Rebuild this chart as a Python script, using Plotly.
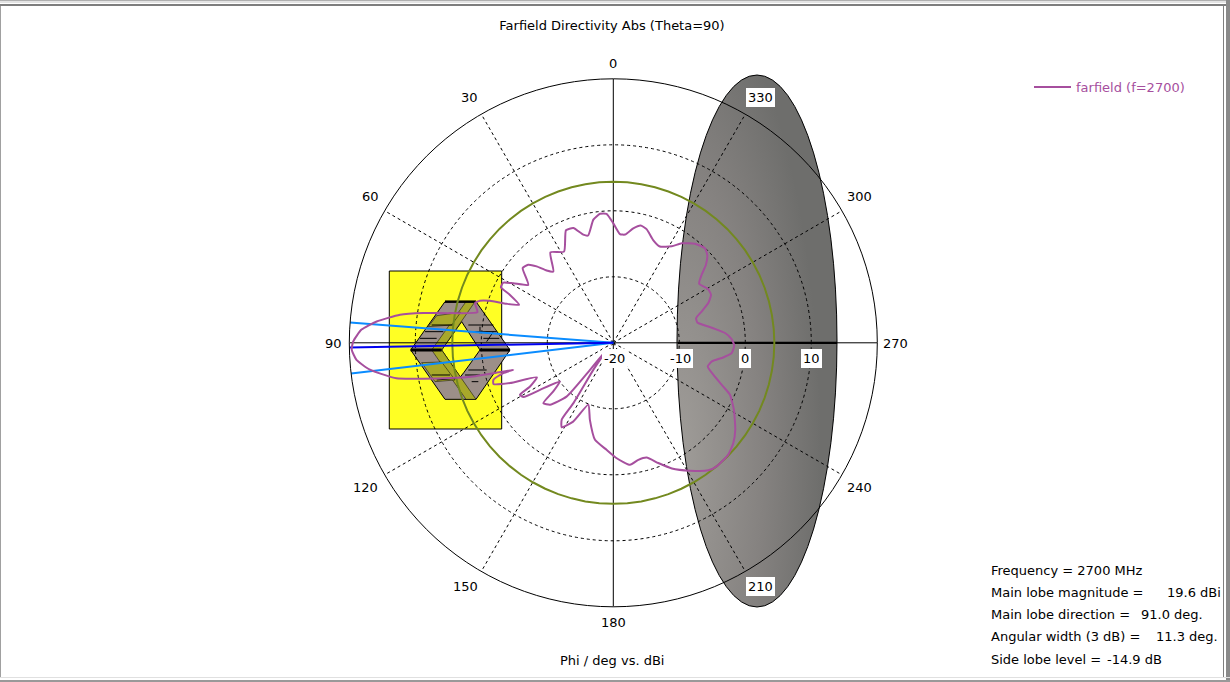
import base64
import plotly.graph_objects as go

# ---- data ----
phi_deg = [0, 3.0, 5.9, 9.2, 13.2, 15.5, 19.2, 22.8, 28.4, 34.8, 40.1, 42.7, 45.1, 47.5, 50.5, 55.7, 59.2, 61.3, 63.7, 65.1,
           68.0, 69.9, 71.2, 72.5, 74.0, 77.3, 79.7, 81.1, 82.5, 84.85, 87.0, 89.7, 91.5, 93.8, 96.3, 99.3, 100.7, 102.2,
           103.5, 104.2, 105.1, 105.4, 107.1, 109.0, 111.3, 114.3, 117.7, 119.1, 121.1, 122.7, 125.9, 129.0, 130.8, 134.4,
           139.0, 139.2, 136.4, 143.5, 146.5, 146.1, 148.6, 153.0, 158.0, 163.1, 169.3, 176.4, 181.7, 187.8, 192.1, 196.2,
           200.5, 205.0, 211.0, 216.7, 219.9, 225.8, 230.1, 234.5, 240.95, 246.0, 248.3, 252.3, 255.9, 259.3, 262.4, 265.0,
           268.7, 271.8, 275.0, 278.3, 283.6, 286.6, 289.5, 292.7, 296.2, 299.5, 304.6, 307.6, 310.1, 313.1, 315.9, 320.5,
           325.5, 328.8, 334.2, 338.8, 343.7, 346.9, 350.1, 353.8, 356.5, 360]
directivity_dbi = [-1.9, -0.43, -0.35, -1.1, -3.3, -3.0, -1.6, -1.5, -4.3, -3.3, -5.9, -5.1, -3.6, -2.5, -2.2, -4.4, -2.4, -1.0, -1.0, -2.7,
                   -4.6, -2.8, -0.25, 1.2, 1.8, 1.1, 5.15, 9.1, 12.6, 16.0, 18.2, 19.4, 19.65, 19.0, 17.1, 13.3, 9.3, 5.3,
                   1.8, -1.25, -4.3, -2.7, -1.0, -0.8, -3.2, -7.3, -5.75, -3.8, -4.1, -6.8, -10.0, -8.3, -6.0, -6.6,
                   -9.2, -14.6, -18.5, -14.9, -9.0, -6.0, -5.0, -6.6, -9.9, -7.8, -5.05, -3.75, -2.5, -1.35, -1.87, -1.9,
                   -0.55, 1.0, 2.6, 4.1, 4.4, 4.3, 3.7, 2.7, 0.9, -0.65, -2.07, -4.1, -5.25, -4.8, -3.2, -2.0,
                   -1.67, -2.07, -3.0, -4.7, -6.9, -6.9, -5.8, -4.4, -3.5, -3.5, -4.2, -3.1, -1.65, -0.5, -0.05, -0.55,
                   -1.7, -2.9, -3.8, -3.3, -2.05, -1.75, -2.4, -3.5, -3.5, -1.9]
angle_ticks = [0, 30, 60, 90, 120, 150, 180, 210, 240, 270, 300, 330]
radial_ticks = [-20, -10, 0, 10]
axis_cross_phi = [0, 90]
side_lobe_circle_db = 4.4
main_lobe_phi = 91.0
beam_edges_phi = [85.6, 96.7]
beam_outer_db = 20
info_labels = ["Frequency = 2700 MHz", "Main lobe magnitude =", "Main lobe direction =",
               "Angular width (3 dB) =", "Side lobe level ="]
info_values = ["", "19.6 dBi", "91.0 deg.", "11.3 deg.", "-14.9 dB"]
series_name = "farfield (f=2700)"
title_text = "Farfield Directivity Abs (Theta=90)"
axis_text = "Phi / deg vs. dBi"

# ---- layout helpers (page pixels -> paper) ----
W, H = 1230, 682
CX, CY, R = 613.3, 342.8, 264.0
PX_PER_DB = R / 40
FONT = "DejaVu Sans"
FS = 13
PURPLE = "#a64f9e"
ANGLE_LABEL_PX = {0: (613, 63), 30: (469, 98), 60: (370, 197), 90: (333, 343), 120: (365, 487), 150: (465, 586),
                  180: (613, 622), 210: (760, 586), 240: (859, 487), 270: (895, 343), 300: (859, 197), 330: (760, 98)}
def px(x): return x / W
def py(y): return 1 - y / H

shapes = []
def poly(points, fill=None, color="black", width=1, closed=True, ox=340, oy=200, layer="below"):
    path = "M" + " L".join(f"{px(ox + a / 3):.5f},{py(oy + b / 3):.5f}" for a, b in points) + (" Z" if closed else "")
    shapes.append(dict(type="path", path=path, xref="paper", yref="paper", layer=layer,
                       fillcolor=fill if fill else "rgba(0,0,0,0)",
                       line=dict(color=color, width=width)))
def box(x0, y0, x1, y1, fill, color=None, width=0, layer="below"):
    shapes.append(dict(type="rect", xref="paper", yref="paper", x0=px(x0), x1=px(x1), y0=py(y0), y1=py(y1),
                       layer=layer, fillcolor=fill, line=dict(color=color or fill, width=width)))

# yellow block and 3D model
box(389.3, 271, 501.7, 429, "#ffff24", "black", 1)
poly([(212, 450), (315, 305), (408, 305), (510, 450), (408, 598), (315, 598)], "#9c8f89", "black", 1)
poly([(305, 450), (365, 365), (420, 450), (372, 517), (361, 531)], "#ffff24", "black", 1)
OLIVE = "#a8a82a"
poly([(378, 305), (405, 305), (305, 450), (275, 450)], OLIVE, "black", 0.5)
poly([(275, 450), (305, 450), (408, 598), (378, 598)], OLIVE, "black", 0.5)
poly([(290, 347), (362, 337), (335, 375), (265, 380)], OLIVE, "black", 0.5)
poly([(245, 488), (305, 486), (345, 540), (285, 545)], OLIVE, "black", 0.5)
for seg in [[(385, 375), (460, 375)], [(400, 395), (470, 395)], [(430, 415), (478, 415)],
            [(385, 510), (440, 510)], [(375, 525), (420, 525)], [(395, 545), (415, 545)],
            [(275, 375), (340, 375)], [(255, 395), (310, 395)], [(240, 415), (290, 415)],
            [(275, 525), (330, 525)], [(290, 540), (350, 535)], [(420, 380), (420, 400)], [(460, 395), (440, 425)]]:
    poly(seg, None, "black", 1, closed=False)
poly([(315, 305), (408, 305)], None, "black", 2.5, closed=False)
poly([(212, 450), (305, 450)], None, "black", 3, closed=False)
poly([(420, 450), (510, 450)], None, "black", 3, closed=False)

# window frame
box(0, 0, W, 1, "#b0b0b0", layer="above")
box(0, 1, W, 3, "#e4e4e4", layer="above")
box(0, 4, W, 6, "#7e7e7e", layer="above")
box(0, 6, 1, 677, "#a0a0a0", layer="above")
box(1223, 4, 1224, 677, "#808080", layer="above")
box(1226, 0, W, H, "#8a8a8a", layer="above")
box(0, 677, W, 678, "#e0e0e0", layer="above")
box(0, 680, W, 682, "#999999", layer="above")

# grey disc (shaded)
svg = ('<svg xmlns="http://www.w3.org/2000/svg" width="162" height="534" viewBox="0 0 162 534">'
       '<defs><radialGradient id="g" cx="0" cy="0.72" r="0.9">'
       '<stop offset="0" stop-color="#a09d99"/><stop offset="0.6" stop-color="#858280"/>'
       '<stop offset="1" stop-color="#6e6e6c"/></radialGradient></defs>'
       '<ellipse cx="81" cy="267" rx="80" ry="266" fill="url(#g)" stroke="black" stroke-width="1"/></svg>')
disc = "data:image/svg+xml;base64," + base64.b64encode(svg.encode()).decode()
images = [dict(source=disc, xref="paper", yref="paper", x=px(676), y=py(74), sizex=162 / W, sizey=534 / H,
               xanchor="left", yanchor="top", sizing="stretch", layer="below")]

fig = go.Figure()
# solid cross lines
for a in axis_cross_phi:
    fig.add_trace(go.Scatterpolar(r=[20, -20, 20], theta=[a, a, a + 180], mode="lines", showlegend=False,
                                  line=dict(color="black", width=1), hoverinfo="skip"))
# thick axis segment across disc
fig.add_trace(go.Scatterpolar(r=[-10.2, 13.9], theta=[270, 270], mode="lines", showlegend=False,
                              line=dict(color="black", width=2.2), hoverinfo="skip"))
# side lobe circle
fig.add_trace(go.Scatterpolar(r=[side_lobe_circle_db] * 73, theta=[i * 5 for i in range(73)], mode="lines", showlegend=False,
                              line=dict(color="#73891f", width=2), hoverinfo="skip"))
# beam lines
for a in beam_edges_phi:
    fig.add_trace(go.Scatterpolar(r=[-20, beam_outer_db], theta=[a, a], mode="lines", showlegend=False,
                                  line=dict(color="#0a8cff", width=2), hoverinfo="skip"))
fig.add_trace(go.Scatterpolar(r=[-20, beam_outer_db], theta=[main_lobe_phi, main_lobe_phi], mode="lines", showlegend=False,
                              line=dict(color="#0000f0", width=2), hoverinfo="skip"))
# far-field curve
fig.add_trace(go.Scatterpolar(r=directivity_dbi, theta=phi_deg, mode="lines", name=series_name,
                              line=dict(color=PURPLE, width=2, shape="spline", smoothing=0.5)))

TXT = dict(family=FONT, size=FS, color="black")
annotations = [dict(text=axis_text, x=px(612), y=py(660), xref="paper", yref="paper", showarrow=False,
                    xanchor="center", yanchor="middle", font=TXT)]
info_y = [570, 592.3, 614.6, 636.9, 659.2]
value_x = [None, 1165, 1139, 1154, 1105]
for lab, val, y, vx in zip(info_labels, info_values, info_y, value_x):
    annotations.append(dict(text=lab, x=px(989), y=py(y), xref="paper", yref="paper", showarrow=False,
                            xanchor="left", yanchor="middle", font=TXT))
    if val:
        annotations.append(dict(text=val, x=px(vx), y=py(y), xref="paper", yref="paper", showarrow=False,
                                xanchor="left", yanchor="middle", font=TXT))
# angle tick labels around the rim
for a in angle_ticks:
    lx, ly = ANGLE_LABEL_PX[a]
    plate = a in (210, 330)
    annotations.append(dict(text=str(a), x=px(lx), y=py(ly),
                            xref="paper", yref="paper", showarrow=False, xanchor="center", yanchor="middle", font=TXT,
                            bgcolor="white" if plate else None, borderpad=2 if plate else 1, borderwidth=0))
# radial tick labels, white plates
for v in radial_ticks:
    annotations.append(dict(text=str(v), x=px(CX + (v + 20) * PX_PER_DB + (1 if v < 0 else 0)), y=py(358),
                            xref="paper", yref="paper", showarrow=False, xanchor="center", yanchor="middle", font=TXT,
                            bgcolor="white", borderpad=2, borderwidth=0))

fig.update_layout(
    width=W, height=H, autosize=False,
    margin=dict(l=0, r=0, t=0, b=0),
    paper_bgcolor="white",
    font=dict(family=FONT, size=FS, color="black"),
    title=dict(text=title_text, x=px(612), y=py(25), xanchor="center", yanchor="middle", font=TXT),
    polar=dict(
        domain=dict(x=[px(CX - R), px(CX + R)], y=[py(CY + R), py(CY - R)]),
        bgcolor="rgba(0,0,0,0)",
        angularaxis=dict(rotation=90, direction="counterclockwise", tickmode="array",
                         tickvals=[a for a in angle_ticks if a % 90 != 0],
                         ticks="", showticklabels=False, showline=True, linecolor="black", linewidth=1,
                         gridcolor="black", gridwidth=1, griddash="3px,3px"),
        radialaxis=dict(range=[-20, 20], angle=0, tickmode="array", tickvals=radial_ticks,
                        ticks="", showticklabels=False, showline=False,
                        gridcolor="black", gridwidth=1, griddash="3px,3px"),
    ),
    legend=dict(x=px(1029), y=py(72), xanchor="left", yanchor="top", bgcolor="rgba(0,0,0,0)", itemwidth=37,
                font=dict(family=FONT, size=FS, color=PURPLE)),
    shapes=shapes, images=images, annotations=annotations,
)
fig.write_html("out.html", config={"displayModeBar": False},
               post_script="document.body.style.margin='0';document.body.style.overflow='hidden';")
